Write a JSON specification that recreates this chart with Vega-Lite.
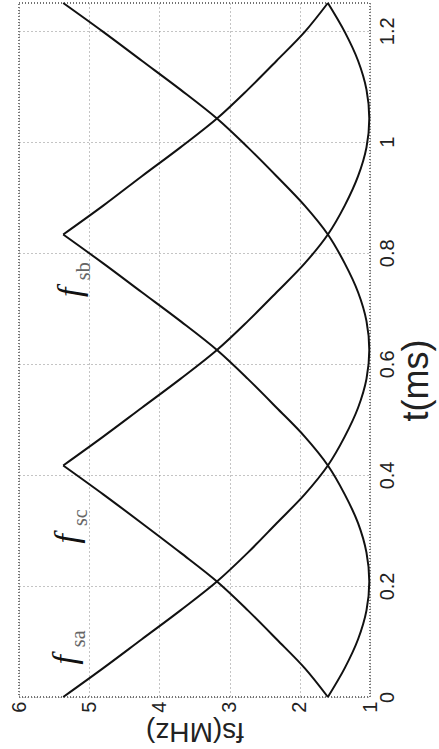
{
  "$schema": "https://vega.github.io/schema/vega-lite/v6.json",
  "width": 351,
  "height": 694,
  "autosize": {"type": "none"},
  "padding": {"left": 19, "top": 3, "right": 69, "bottom": 52},
  "background": "white",
  "config": {
    "view": {"stroke": "#444", "strokeDash": [1, 2], "strokeWidth": 1.5},
    "axis": {"labelFont": "Liberation Sans", "titleFont": "Liberation Sans", "labelColor": "#222", "titleColor": "#222", "titleFontWeight": "normal"}
  },
  "datasets": {
    "curves": [
      {"seg": "sa", "t": 0, "f": 5.37}, {"seg": "sa", "t": 0.052, "f": 4.80}, {"seg": "sa", "t": 0.104, "f": 4.25}, {"seg": "sa", "t": 0.156, "f": 3.70}, {"seg": "sa", "t": 0.208, "f": 3.18}, {"seg": "sa", "t": 0.260, "f": 2.74}, {"seg": "sa", "t": 0.313, "f": 2.33}, {"seg": "sa", "t": 0.365, "f": 1.93}, {"seg": "sa", "t": 0.417, "f": 1.60}, {"seg": "sa", "t": 0.469, "f": 1.36}, {"seg": "sa", "t": 0.521, "f": 1.17}, {"seg": "sa", "t": 0.573, "f": 1.05}, {"seg": "sa", "t": 0.625, "f": 1.01}, {"seg": "sa", "t": 0.677, "f": 1.05}, {"seg": "sa", "t": 0.729, "f": 1.17}, {"seg": "sa", "t": 0.781, "f": 1.36}, {"seg": "sa", "t": 0.833, "f": 1.60}, {"seg": "sa", "t": 0.885, "f": 1.93}, {"seg": "sa", "t": 0.938, "f": 2.33}, {"seg": "sa", "t": 0.990, "f": 2.74}, {"seg": "sa", "t": 1.042, "f": 3.18}, {"seg": "sa", "t": 1.094, "f": 3.70}, {"seg": "sa", "t": 1.146, "f": 4.25}, {"seg": "sa", "t": 1.198, "f": 4.80}, {"seg": "sa", "t": 1.25, "f": 5.37},
      {"seg": "sc1", "t": 0, "f": 1.60}, {"seg": "sc1", "t": 0.052, "f": 1.93}, {"seg": "sc1", "t": 0.104, "f": 2.33}, {"seg": "sc1", "t": 0.156, "f": 2.74}, {"seg": "sc1", "t": 0.208, "f": 3.18}, {"seg": "sc1", "t": 0.260, "f": 3.70}, {"seg": "sc1", "t": 0.313, "f": 4.25}, {"seg": "sc1", "t": 0.365, "f": 4.80}, {"seg": "sc1", "t": 0.417, "f": 5.37},
      {"seg": "sc2", "t": 0.417, "f": 5.37}, {"seg": "sc2", "t": 0.469, "f": 4.80}, {"seg": "sc2", "t": 0.521, "f": 4.25}, {"seg": "sc2", "t": 0.573, "f": 3.70}, {"seg": "sc2", "t": 0.625, "f": 3.18}, {"seg": "sc2", "t": 0.677, "f": 2.74}, {"seg": "sc2", "t": 0.729, "f": 2.33}, {"seg": "sc2", "t": 0.781, "f": 1.93}, {"seg": "sc2", "t": 0.833, "f": 1.60}, {"seg": "sc2", "t": 0.885, "f": 1.36}, {"seg": "sc2", "t": 0.938, "f": 1.17}, {"seg": "sc2", "t": 0.990, "f": 1.05}, {"seg": "sc2", "t": 1.042, "f": 1.01}, {"seg": "sc2", "t": 1.094, "f": 1.05}, {"seg": "sc2", "t": 1.146, "f": 1.17}, {"seg": "sc2", "t": 1.198, "f": 1.36}, {"seg": "sc2", "t": 1.25, "f": 1.60},
      {"seg": "sb1", "t": 0, "f": 1.60}, {"seg": "sb1", "t": 0.052, "f": 1.36}, {"seg": "sb1", "t": 0.104, "f": 1.17}, {"seg": "sb1", "t": 0.156, "f": 1.05}, {"seg": "sb1", "t": 0.208, "f": 1.01}, {"seg": "sb1", "t": 0.260, "f": 1.05}, {"seg": "sb1", "t": 0.313, "f": 1.17}, {"seg": "sb1", "t": 0.365, "f": 1.36}, {"seg": "sb1", "t": 0.417, "f": 1.60}, {"seg": "sb1", "t": 0.469, "f": 1.93}, {"seg": "sb1", "t": 0.521, "f": 2.33}, {"seg": "sb1", "t": 0.573, "f": 2.74}, {"seg": "sb1", "t": 0.625, "f": 3.18}, {"seg": "sb1", "t": 0.677, "f": 3.70}, {"seg": "sb1", "t": 0.729, "f": 4.25}, {"seg": "sb1", "t": 0.781, "f": 4.80}, {"seg": "sb1", "t": 0.833, "f": 5.37},
      {"seg": "sb2", "t": 0.833, "f": 5.37}, {"seg": "sb2", "t": 0.885, "f": 4.80}, {"seg": "sb2", "t": 0.938, "f": 4.25}, {"seg": "sb2", "t": 0.990, "f": 3.70}, {"seg": "sb2", "t": 1.042, "f": 3.18}, {"seg": "sb2", "t": 1.094, "f": 2.74}, {"seg": "sb2", "t": 1.146, "f": 2.33}, {"seg": "sb2", "t": 1.198, "f": 1.93}, {"seg": "sb2", "t": 1.25, "f": 1.60}
    ],
    "labels": [
      {"name": "sa", "t": 0.067, "f": 5.33},
      {"name": "sc", "t": 0.285, "f": 5.30},
      {"name": "sb", "t": 0.729, "f": 5.26}
    ]
  },
  "encoding": {
    "x": {
      "field": "f", "type": "quantitative",
      "scale": {"domain": [1, 6], "reverse": true, "nice": false, "zero": false},
      "axis": {
        "orient": "bottom", "values": [1, 2, 3, 4, 5, 6], "format": "~g",
        "labelAngle": -90, "labelAlign": "right", "labelBaseline": "middle", "labelPadding": 4,
        "labelFontSize": 20, "labelFlush": false, "labelOverlap": false,
        "ticks": false, "domain": false,
        "grid": true, "gridDash": [1, 3], "gridColor": "#888", "gridWidth": 1,
        "title": "fs(MHz)", "titleAngle": 180, "titleFontSize": 28,
        "titleY": 33, "titleBaseline": "middle", "titleAlign": "center"
      }
    },
    "y": {
      "field": "t", "type": "quantitative",
      "scale": {"domain": [0, 1.25], "nice": false, "zero": false},
      "axis": {
        "orient": "right", "values": [0, 0.2, 0.4, 0.6, 0.8, 1, 1.2], "format": "~g",
        "labelAngle": -90, "labelAlign": "center", "labelBaseline": "top", "labelPadding": 7,
        "labelFontSize": 20, "labelFlush": false, "labelOverlap": false,
        "ticks": false, "domain": false,
        "grid": true, "gridDash": [1, 3], "gridColor": "#888", "gridWidth": 1,
        "title": "t(ms)", "titleAngle": -90, "titleFontSize": 36,
        "titleX": 46, "titleY": 377, "titleBaseline": "middle", "titleAlign": "center"
      }
    }
  },
  "layer": [
    {
      "data": {"name": "curves"},
      "mark": {"type": "line", "color": "#111", "strokeWidth": 2, "interpolate": "catmull-rom"},
      "encoding": {
        "detail": {"field": "seg", "type": "nominal"},
        "order": {"field": "t", "type": "quantitative"}
      }
    },
    {
      "data": {"name": "labels"},
      "mark": {"type": "text", "text": "f", "font": "Liberation Serif", "fontStyle": "italic", "fontSize": 34, "angle": 270, "align": "center", "baseline": "middle", "color": "#111"}
    },
    {
      "data": {"name": "labels"},
      "mark": {"type": "text", "font": "Liberation Serif", "fontSize": 20, "angle": 270, "align": "center", "baseline": "middle", "dx": 21, "dy": 13, "color": "#666"},
      "encoding": {"text": {"field": "name", "type": "nominal"}}
    }
  ]
}
